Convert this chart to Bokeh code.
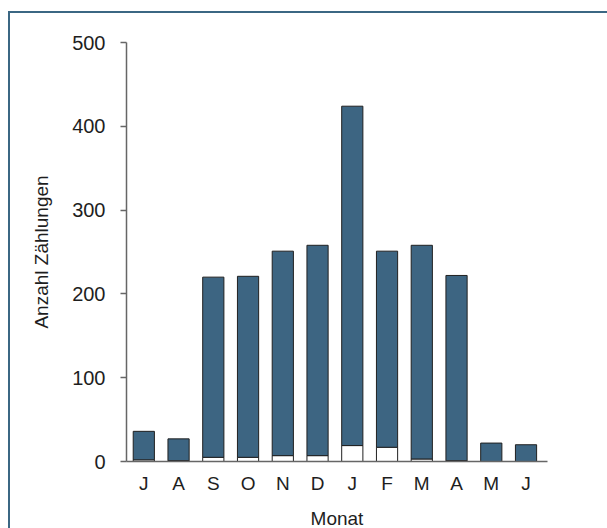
from bokeh.plotting import figure
from bokeh.models import ColumnDataSource, FixedTicker
from bokeh.embed import file_html
from bokeh.resources import INLINE

# Data
month_labels = ["J", "A", "S", "O", "N", "D", "J", "F", "M", "A", "M", "J"]
month_pos = [1, 2, 3, 4, 5, 6, 7, 8, 9, 10, 11, 12]
totals = [36, 27, 220, 221, 251, 258, 424, 251, 258, 222, 22, 20]
white_part = [2, 1, 5, 5, 7, 7, 19, 17, 3, 1, 0, 0]
dark_part = [t - w for t, w in zip(totals, white_part)]
y_ticks = [0, 100, 200, 300, 400, 500]

DARK = "#3d6582"
FRAME = "#3b6783"
TXT = "#1e1e1e"
FONT = "Liberation Sans"

source = ColumnDataSource(dict(x=month_pos, white=white_part, dark=dark_part))

p = figure(
    frame_width=421, frame_height=419,
    x_range=(0.502, 12.618), y_range=(0, 500),
    output_backend="svg", toolbar_location=None,
    min_border_left=116, min_border_right=60,
    min_border_top=29, min_border_bottom=66,
)
p.styles = {
    "margin-left": "8px", "margin-top": "11px",
    "border-left": f"2px solid {FRAME}", "border-top": f"2px solid {FRAME}",
}

p.vbar_stack(["white", "dark"], x="x", width=0.61, source=source,
             fill_color=["white", DARK], line_color="#202020", line_width=1)

p.outline_line_color = None
p.xgrid.grid_line_color = None
p.ygrid.grid_line_color = None
p.background_fill_color = "white"
p.border_fill_color = "white"

# x axis
xa = p.xaxis[0]
xa.ticker = FixedTicker(ticks=month_pos)
xa.major_label_overrides = {m: l for m, l in zip(month_pos, month_labels)}
xa.major_tick_in = 0
xa.major_tick_out = 0
xa.minor_tick_line_color = None
xa.axis_line_color = "#666666"
xa.axis_line_width = 1.5
xa.major_label_standoff = 11
xa.major_label_text_font = FONT
xa.major_label_text_font_size = "19px"
xa.major_label_text_color = TXT
xa.axis_label = "Monat"
xa.axis_label_text_font = FONT
xa.axis_label_text_font_size = "19px"
xa.axis_label_text_font_style = "normal"
xa.axis_label_text_color = TXT
xa.axis_label_standoff = 11

# y axis
ya = p.yaxis[0]
ya.ticker = FixedTicker(ticks=y_ticks)
ya.major_tick_in = 0
ya.major_tick_out = 6
ya.major_tick_line_color = "#666666"
ya.major_tick_line_width = 1.5
ya.minor_tick_line_color = None
ya.axis_line_color = "#666666"
ya.axis_line_width = 1.5
ya.major_label_standoff = 15
ya.major_label_text_font = FONT
ya.major_label_text_font_size = "20px"
ya.major_label_text_color = TXT
ya.axis_label = "Anzahl Zählungen"
ya.axis_label_text_font = FONT
ya.axis_label_text_font_size = "19px"
ya.axis_label_text_font_style = "normal"
ya.axis_label_text_color = TXT
ya.axis_label_standoff = 17

open("out.html", "w").write(file_html(p, INLINE))
